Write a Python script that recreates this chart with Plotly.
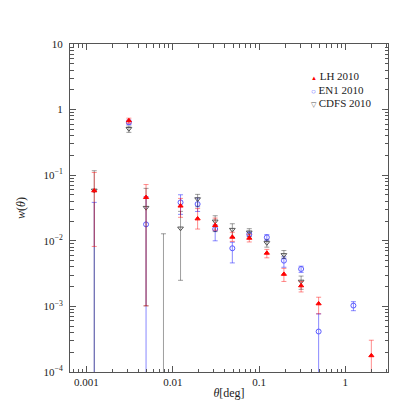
import numpy as np
import plotly.graph_objects as go

# --- dados ---
nomes = ["LH 2010", "EN1 2010", "CDFS 2010"]

# LH 2010 (vermelho)
lh_theta = [0.00123, 0.0031, 0.0049, 0.0123, 0.0194, 0.031, 0.049, 0.077, 0.123, 0.194, 0.307, 0.49, 2.0]
lh_w = [0.058, 0.68, 0.046, 0.034, 0.0217, 0.0172, 0.0114, 0.011, 0.0065, 0.0031, 0.00207, 0.0011, 0.000178]
lh_sup = [0.110, 0.74, 0.072, 0.0443, 0.031, 0.0222, 0.0135, 0.0125, 0.0074, 0.0038, 0.0024, 0.00138, 0.000305]
lh_inf = [0.0082, 0.62, 0.00102, 0.0228, 0.0151, 0.0145, 0.0098, 0.0096, 0.0055, 0.0024, 0.00166, 0.00077, 1e-6]

# EN1 2010 (azul)
en1_theta = [0.00123, 0.0031, 0.0049, 0.0123, 0.0194, 0.031, 0.049, 0.077, 0.123, 0.194, 0.307, 0.49, 1.24]
en1_w = [1e-6, 0.64, 0.0178, 0.0385, 0.0363, 0.0151, 0.0077, 0.0126, 0.0113, 0.00498, 0.00372, 0.000414, 0.00103]
en1_sup = [0.0385, 0.69, 0.047, 0.0503, 0.045, 0.0175, 0.0095, 0.0135, 0.0124, 0.0057, 0.0041, 0.00077, 0.00118]
en1_inf = [1e-6, 0.59, 1e-6, 0.0253, 0.028, 0.0100, 0.0046, 0.0118, 0.0100, 0.00395, 0.0033, 1e-6, 0.00086]

# CDFS 2010 (cinza)
cdfs_theta = [0.00123, 0.0031, 0.0049, 0.0078, 0.0123, 0.0194, 0.031, 0.049, 0.077, 0.123, 0.194, 0.307]
cdfs_w = [0.0587, 0.51, 0.032, 1e-6, 0.0155, 0.0433, 0.0198, 0.0148, 0.0135, 0.0093, 0.0061, 0.0024]
cdfs_sup = [0.117, 0.56, 0.063, 0.0128, 0.0281, 0.051, 0.0241, 0.0182, 0.0153, 0.0103, 0.0071, 0.0029]
cdfs_inf = [1e-6, 0.45, 0.00102, 1e-6, 0.0025, 0.033, 0.0138, 0.0113, 0.0115, 0.0080, 0.0054, 0.00182]

x_ticks = [0.001, 0.01, 0.1, 1]
x_ticktext = ["0.001", "0.01", "0.1", "1"]
y_ticks = [1e-4, 1e-3, 1e-2, 1e-1, 1, 10]
y_ticktext = ["10<sup>\u22124</sup>", "10<sup>\u22123</sup>", "10<sup>\u22122</sup>",
              "10<sup>\u22121</sup>", "1", "10"]

FONTE = "Liberation Serif"


def serie(theta, w, sup, inf, nome, simbolo, cor, cor_erro, tam):
    w = np.array(w)
    return go.Scatter(
        x=theta, y=w, mode="markers", name=nome, showlegend=False,
        marker=dict(symbol=simbolo, size=tam, color=cor, line=dict(color=cor, width=1)),
        error_y=dict(type="data", symmetric=False,
                     array=np.array(sup) - w, arrayminus=w - np.array(inf),
                     color=cor_erro, thickness=1, width=2.5),
    )


def menores(a, b):
    return [k * 10.0 ** n for n in range(a, b) for k in range(2, 10)]


fig = go.Figure()
fig.add_trace(serie(en1_theta, en1_w, en1_sup, en1_inf, nomes[1], "circle-open", "#5a5aff", "rgba(40,40,255,0.55)", 5))
fig.add_trace(serie(cdfs_theta, cdfs_w, cdfs_sup, cdfs_inf, nomes[2], "triangle-down-open", "#555555", "rgba(0,0,0,0.38)", 5))
fig.add_trace(serie(lh_theta, lh_w, lh_sup, lh_inf, nomes[0], "triangle-up", "#ff0000", "rgba(255,0,0,0.45)", 4.5))

eixo = dict(type="log", showgrid=False, zeroline=False, showline=True, linecolor="#555555",
            linewidth=1, mirror="allticks", ticks="inside", ticklen=6, tickcolor="#555555",
            tickfont=dict(family=FONTE, size=11, color="#222222"))

fig.update_xaxes(**eixo, range=[np.log10(0.000644), np.log10(3.12)],
                 tickvals=x_ticks, ticktext=x_ticktext,
                 minor=dict(tickvals=menores(-4, 1), ticks="inside", ticklen=3.5, tickcolor="#555555"),
                 title=dict(text="<i>\u03b8</i>[deg]", font=dict(family=FONTE, size=12, color="#222222"), standoff=1))
fig.update_yaxes(**eixo, range=[-4, 1],
                 tickvals=y_ticks, ticktext=y_ticktext, ticklabelstandoff=4,
                 minor=dict(tickvals=menores(-4, 1), ticks="inside", ticklen=3.5, tickcolor="#555555"),
                 title=dict(text="<i>w</i>(<i>\u03b8</i>)", font=dict(family=FONTE, size=12, color="#222222"), standoff=15))

# legenda feita com texto
legenda = [("#ff0000", "\u25b2", nomes[0], 6), ("#5a5aff", "\u25cb", nomes[1], 8), ("#555555", "\u25bd", nomes[2], 7)]
for i, (cor, simb, nome, ts) in enumerate(legenda):
    fig.add_annotation(xref="paper", yref="paper", x=0.753, y=0.902 - i * 0.0415,
                       xanchor="left", yanchor="middle", showarrow=False,
                       text=f'<span style="color:{cor};font-size:{ts}px">{simb}</span> {nome}',
                       font=dict(family=FONTE, size=11, color="#222222"))

fig.update_layout(
    width=415, height=415,
    margin=dict(l=52, r=35, t=36, b=51),
    plot_bgcolor="white", paper_bgcolor="white",
    showlegend=False,
)

fig.write_html("out.html")
